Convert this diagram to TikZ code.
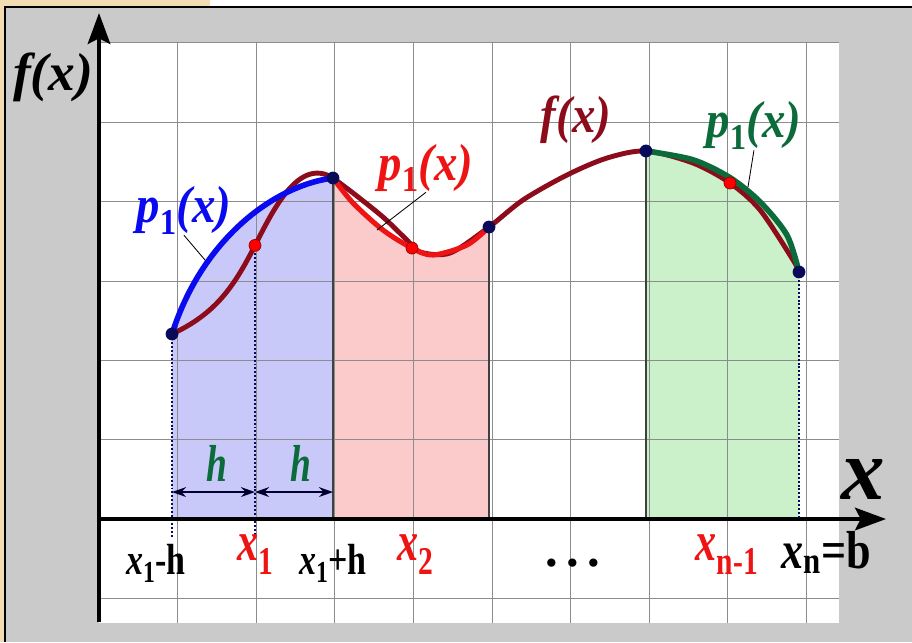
\documentclass[tikz,border=0pt]{standalone}
\usepackage{fontspec}
\setmainfont{Liberation Serif}[
    BoldFont={Liberation Serif Bold},
    ItalicFont={Liberation Serif Italic},
    BoldItalicFont={Liberation Serif Bold Italic}]
\usetikzlibrary{arrows.meta}

\definecolor{beige}{HTML}{F2DDB2}
\definecolor{panel}{HTML}{CACACA}
\definecolor{gRejilla}{HTML}{8C8C8C}
\definecolor{azul}{HTML}{0A0AF0}
\definecolor{rojo}{HTML}{EE1414}
\definecolor{verde}{HTML}{0B6B3A}
\definecolor{granate}{HTML}{8C0C1C}
\definecolor{azulOsc}{HTML}{0A0A5A}
\definecolor{rellenoAzul}{HTML}{C9C9F9}
\definecolor{rellenoRojo}{HTML}{FBCBCB}
\definecolor{rellenoVerde}{HTML}{CBF1CB}

\begin{document}
\begin{tikzpicture}[
    x=1.965cm, y=1.9825cm,
    % Estilos para los puntos
    punto/.style={circle, fill=azulOsc, inner sep=0pt, minimum size=0.32cm},
    punto_rojo/.style={circle, fill=red, draw=red!60!black, line width=0.5pt, inner sep=0pt, minimum size=0.3cm},
    % Estilos para las lineas
    rejilla/.style={line width=0.7pt, gRejilla},
    eje/.style={line width=2.8pt, -{Stealth[length=22pt, width=16pt, inset=4pt]}},
    borde/.style={line width=1pt, black!75},
    punteado/.style={line width=1.4pt, azulOsc, dash pattern=on 1.4pt off 1.4pt},
    cota/.style={line width=1.1pt, black!70!blue!60!black, {Stealth[length=10pt, width=7pt]}-{Stealth[length=10pt, width=7pt]}},
    guia/.style={line width=0.6pt, black},
    curva/.style={line width=4pt, line cap=round},
    % Estilos para los textos
    etq/.style={font=\fontsize{37}{40}\selectfont\bfseries\itshape, anchor=base, inner sep=0pt, xscale=0.9},
    abajo/.style={font=\fontsize{31}{34}\selectfont\bfseries, anchor=base, inner sep=0pt, xscale=0.78},
    abajo_rojo/.style={font=\fontsize{40}{44}\selectfont\bfseries, text=rojo, anchor=base, inner sep=0pt, xscale=0.75}
    ]

    % Fondo y panel gris
    \useasboundingbox (-1.2595,-1.551) rectangle (10.3435,6.545);
    \fill[beige] (-1.2595,-1.551) rectangle (10.3435,6.545);
    \fill[white] (1.412,6.456) rectangle (10.3435,6.545);
    \fill[panel] (-1.196,-1.551) rectangle (10.3435,6.456);
    \draw[line width=1.2pt] (-1.196,-1.551) -- (-1.196,6.456) -- (10.3435,6.456);

    % Zona blanca de la rejilla
    \fill[white] (0,-1.31) rectangle (9.415,6.015);

    % Puntos de la curva
    \coordinate (o) at (0,0);
    \coordinate (pa) at (0.929,2.333);
    \coordinate (pb) at (1.985,3.45);
    \coordinate (pc) at (2.977,4.300);
    \coordinate (pd) at (3.982,3.417);
    \coordinate (pe) at (4.962,3.682);
    \coordinate (pf) at (6.959,4.641);
    \coordinate (pg) at (8.028,4.237);
    \coordinate (ph) at (8.906,3.115);
    \coordinate (bajo) at (0,-0.23);
    \coordinate (hy) at (0,0.34);

    % Areas bajo p1(x)
    \fill[rellenoAzul] (pa) .. controls (1.3,3.5) and (2.2,4.2) .. (pc) -- (pc |- o) -- (pa |- o) -- cycle;
    \fill[rellenoRojo] plot[smooth] coordinates {(2.977,4.300) (3.232,3.985) (3.613,3.644) (3.982,3.417) (4.249,3.329) (4.682,3.455) (4.962,3.682)} -- (pe |- o) -- (pc |- o) -- cycle;
    \fill[rellenoVerde] plot[smooth] coordinates {(6.959,4.641) (7.557,4.530) (8.028,4.305) (8.41,4.0) (8.753,3.58) (8.906,3.115)} -- (ph |- o) -- (pf |- o) -- cycle;

    % Rejilla
    \foreach \i in {1,...,9}
        \draw[rejilla] (\i,-1.31) -- (\i,6.015);
    \foreach \j in {-1,1,2,3,4,5}
        \draw[rejilla] (0,\j) -- (9.415,\j);
    \draw[rejilla] (0,6.015) -- (9.415,6.015);

    % Lineas verticales
    \draw[borde] (pc) -- (pc |- o);
    \draw[borde] (pe) -- (pe |- o);
    \draw[borde] (pf) -- (pf |- o);
    \draw[punteado] (pa) -- (pa |- bajo);
    \draw[punteado] (pb) -- (pb |- bajo);
    \draw[punteado] (ph) -- (ph |- o);

    % Ejes
    \draw[eje] (-0.018,0) -- (10.013,0);
    \draw[eje] (0,-1.30) -- (0,6.381);

    % Cotas h
    \draw[cota] (pa |- hy) -- (pb |- hy);
    \draw[cota] (pb |- hy) -- (pc |- hy);

    % f(x)
    \draw[curva, granate, line width=3.5pt] (pa) to[out=25, in=243] (pb) to[out=63, in=148] (pc)
        plot[smooth] coordinates {(2.977,4.300) (3.232,4.111) (3.613,3.808) (3.918,3.518) (4.084,3.367) (4.466,3.354) (4.962,3.682) (5.394,4.023) (5.954,4.338) (6.463,4.552) (6.959,4.641) (7.557,4.489) (8.028,4.237) (8.41,3.897) (8.83,3.266) (8.906,3.115)};

    % Interpolantes p1(x)
    \draw[curva, azul] (pa) .. controls (1.3,3.5) and (2.2,4.2) .. (pc);
    \draw[curva, rojo, line width=3.6pt] plot[smooth] coordinates {(2.977,4.300) (3.232,3.985) (3.613,3.644) (3.982,3.417) (4.249,3.329) (4.682,3.455) (4.962,3.682)};
    \draw[curva, verde] plot[smooth] coordinates {(6.959,4.641) (7.557,4.530) (8.028,4.305) (8.41,4.0) (8.753,3.58) (8.906,3.115)};

    % Nodos
    \node[punto] (na) at (pa) {};
    \node[punto] (nc) at (pc) {};
    \node[punto] (ne) at (pe) {};
    \node[punto] (nf) at (pf) {};
    \node[punto] (nh) at (ph) {};
    \node[punto_rojo] (nb) at (pb) {};
    \node[punto_rojo] (nd) at (pd) {};
    \node[punto_rojo] (ng) at (pg) {};

    % Etiquetas de las curvas
    \node[etq, xscale=1.11, font=\fontsize{38}{40}\selectfont\bfseries\itshape] (fy) at (-0.585,5.41) {f(x)};
    \node[etq, text=azul] (etq_azul) at (1.081,3.733) {p\textsubscript{\upshape 1}(x)};
    \node[etq, text=rojo] (etq_roja) at (4.160,4.275) {p\textsubscript{\upshape 1}(x)};
    \node[etq, text=granate] (etq_f) at (6.069,4.868) {f(x)};
    \node[etq, text=verde] (etq_verde) at (8.333,4.805) {p\textsubscript{\upshape 1}(x)};
    \coordinate (g_azul) at (1.349,3.266);
    \coordinate (g_roja) at (3.537,3.644);
    \coordinate (g_verde) at (8.257,4.187);
    \draw[guia] (etq_azul.south) -- (g_azul);
    \draw[guia] (etq_roja.south) -- (g_roja);
    \draw[guia] (etq_verde.south) -- (g_verde);

    % Etiquetas de los ejes y de h
    \node[etq, xscale=1.11, font=\fontsize{62}{64}\selectfont\bfseries\itshape] (ex) at (9.72,0.24) {x};
    \node[etq, text=verde, xscale=0.8] (h1) at (1.50,0.467) {h};
    \node[etq, text=verde, xscale=0.8] (h2) at (2.57,0.467) {h};

    % Etiquetas del eje x
    \node[abajo] (x1mh) at (0.725,-0.70) {\textit{x}\textsubscript{1}-h};
    \node[abajo_rojo] (x1) at (1.997,-0.52) {\textit{x}\textsubscript{1}};
    \node[abajo] (x1ph) at (2.977,-0.70) {\textit{x}\textsubscript{1}+h};
    \node[abajo_rojo] (x2) at (4.03,-0.52) {\textit{x}\textsubscript{2}};
    \node[abajo, xscale=1.28, font=\fontsize{36}{40}\selectfont\bfseries] (pts) at (6.03,-0.593) {.\,.\,.};
    \node[abajo_rojo] (xn1) at (7.99,-0.52) {\textit{x}\textsubscript{n-1}};
    \node[abajo, xscale=1.06, font=\fontsize{38}{40}\selectfont\bfseries] (xnb) at (9.25,-0.62) {\textit{x}\textsubscript{n}=b};

\end{tikzpicture}
\end{document}
